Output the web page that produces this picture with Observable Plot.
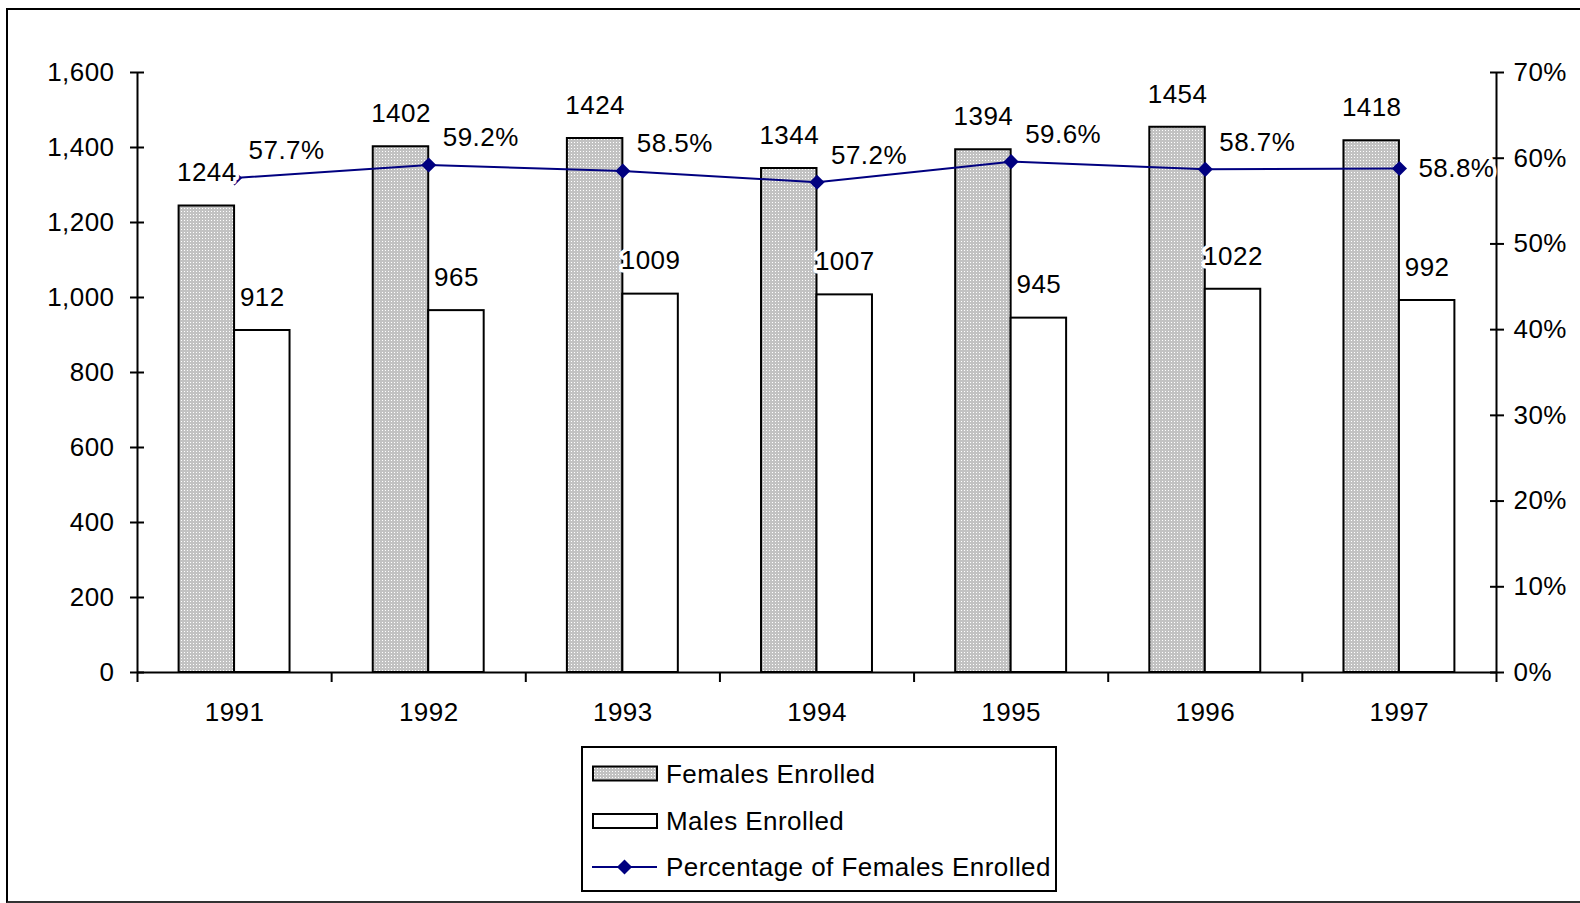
<!DOCTYPE html>
<html>
<head>
<meta charset="utf-8">
<script src="https://cdn.jsdelivr.net/npm/d3@7"></script>
<script src="https://cdn.jsdelivr.net/npm/@observablehq/plot@0.6"></script>
<style>
  html, body { margin: 0; padding: 0; background: #fff; overflow: hidden; width: 1580px; height: 903px; }
  #chart { position: absolute; left: 0; top: 0; }
  #legend { position: absolute; left: 581px; top: 746px; }
  #border { position: absolute; left: 6px; top: 8px; width: 1640px; height: 895px; box-sizing: border-box;
            border-top: 2.5px solid #000; border-left: 2px solid #000; border-bottom: 2px solid #333; pointer-events: none; }
  svg text { font-family: "Liberation Sans", Arial, sans-serif; letter-spacing: 0.45px; }
</style>
</head>
<body>
<svg width="0" height="0" style="position:absolute">
  <defs>
    <pattern id="dots" width="3" height="3" patternUnits="userSpaceOnUse">
      <rect width="3" height="3" fill="#c2c2c2"></rect>
      <rect x="1" y="1" width="1" height="1" fill="#ffffff"></rect>
    </pattern>
  </defs>
</svg>
<div id="chart"></div>
<div id="legend"></div>
<div id="border"></div>
<script>
// ---- data ----
const years = ["1991", "1992", "1993", "1994", "1995", "1996", "1997"];
const femalesEnrolled = [1244, 1402, 1424, 1344, 1394, 1454, 1418];
const malesEnrolled = [912, 965, 1009, 1007, 945, 1022, 992];
const pctFemales = [57.7, 59.2, 58.5, 57.2, 59.6, 58.7, 58.8];
const leftTicks = [0, 200, 400, 600, 800, 1000, 1200, 1400, 1600];
const rightTicks = [0, 10, 20, 30, 40, 50, 60, 70];
const seriesNames = ["Females Enrolled", "Males Enrolled", "Percentage of Females Enrolled"];

// ---- derived ----
const yMax = 1600, pMax = 70;
const k = yMax / pMax;              // maps percentage onto the left scale
const gapWidth = 1.5;               // Excel gap width 150%
const barW = 1 / (2 + gapWidth);    // bar width in category units
const rows = years.map((year, i) => ({
  i, year, females: femalesEnrolled[i], males: malesEnrolled[i], pct: pctFemales[i]
}));
const navy = "#000080";
const halo = { stroke: "white", strokeWidth: 7, fill: "black" };

const plot = Plot.plot({
  width: 1580,
  height: 740,
  marginLeft: 137,
  marginRight: 84,
  marginTop: 72,
  marginBottom: 68,
  style: {
    fontFamily: "'Liberation Sans', Arial, sans-serif",
    fontSize: "26px",
    color: "black",
    background: "transparent",
    overflow: "visible"
  },
  x: { type: "linear", domain: [0, years.length], axis: null },
  y: { domain: [0, yMax], label: null, axis: null },
  marks: [
    // bars
    Plot.rectY(rows, {
      x1: d => d.i + 0.5 - barW, x2: d => d.i + 0.5,
      y1: 0, y2: "females",
      fill: "url(#dots)", stroke: "black", strokeWidth: 2
    }),
    Plot.rectY(rows, {
      x1: d => d.i + 0.5, x2: d => d.i + 0.5 + barW,
      y1: 0, y2: "males",
      fill: "white", stroke: "black", strokeWidth: 2
    }),
    // axis lines
    Plot.ruleX([0, years.length], { stroke: "black", strokeWidth: 2 }),
    Plot.ruleY([0], { stroke: "black", strokeWidth: 2 }),
    // left axis
    Plot.axisY({
      anchor: "left", ticks: leftTicks, tickFormat: d3.format(","),
      tickSize: 14, dx: 7, tickPadding: 16, strokeWidth: 2, label: null
    }),
    // right axis
    Plot.axisY({
      anchor: "right", ticks: rightTicks.map(p => p * k), tickFormat: v => Math.round(v / k) + "%",
      tickSize: 14, dx: -7, tickPadding: 10, strokeWidth: 2, label: null
    }),
    // category boundary ticks
    Plot.axisX({
      ticks: d3.range(years.length + 1), tickFormat: () => "",
      tickSize: 10, strokeWidth: 2, label: null
    }),
    // category labels
    Plot.axisX({
      ticks: years.map((_, i) => i + 0.5), tickFormat: v => years[Math.floor(v)],
      tickSize: 0, tickPadding: 30, label: null
    }),
    // percentage line
    Plot.line(rows, { x: d => d.i + 0.5, y: d => d.pct * k, stroke: navy, strokeWidth: 2 }),
    Plot.dot(rows, { x: d => d.i + 0.5, y: d => d.pct * k, symbol: "diamond2", r: 6.8, fill: navy, stroke: "none" }),
    // data labels
    Plot.text(rows, { x: d => d.i + 0.5 - barW / 2, y: "females", text: d => String(d.females), dy: -33, ...halo }),
    Plot.text(rows, { x: d => d.i + 0.5 + barW / 2, y: "males", text: d => String(d.males), dy: -33, ...halo }),
    Plot.text(rows.slice(0, -1), { x: d => d.i + 0.5, y: d => d.pct * k, text: d => d.pct.toFixed(1) + "%", dx: 52, dy: -27, ...halo }),
    Plot.text(rows.slice(-1), { x: d => d.i + 0.5, y: d => d.pct * k, text: d => d.pct.toFixed(1) + "%", dx: 57, dy: 0, ...halo })
  ]
});
document.getElementById("chart").appendChild(plot);

// ---- legend ----
const lg = d3.select("#legend").append("svg").attr("width", 476).attr("height", 146)
  .style("font-family", "'Liberation Sans', Arial, sans-serif").style("font-size", "26px");
lg.append("rect").attr("x", 1).attr("y", 1).attr("width", 474).attr("height", 144)
  .attr("fill", "white").attr("stroke", "black").attr("stroke-width", 2);
const rowY = [27.5, 75, 121];
lg.append("rect").attr("x", 12).attr("y", 20.5).attr("width", 64).attr("height", 14)
  .attr("fill", "url(#dots)").attr("stroke", "black").attr("stroke-width", 2);
lg.append("rect").attr("x", 12).attr("y", 68).attr("width", 64).attr("height", 14)
  .attr("fill", "white").attr("stroke", "black").attr("stroke-width", 2);
lg.append("line").attr("x1", 11).attr("x2", 76).attr("y1", rowY[2]).attr("y2", rowY[2])
  .attr("stroke", navy).attr("stroke-width", 2);
lg.append("path").attr("transform", `translate(43.5,${rowY[2]})`)
  .attr("d", d3.symbol(d3.symbolDiamond2, Math.PI * 6.8 * 6.8)()).attr("fill", navy);
seriesNames.forEach((name, j) => {
  lg.append("text").attr("x", 85).attr("y", rowY[j]).attr("dy", "0.36em").attr("fill", "black").text(name);
});
</script>
</body>
</html>
